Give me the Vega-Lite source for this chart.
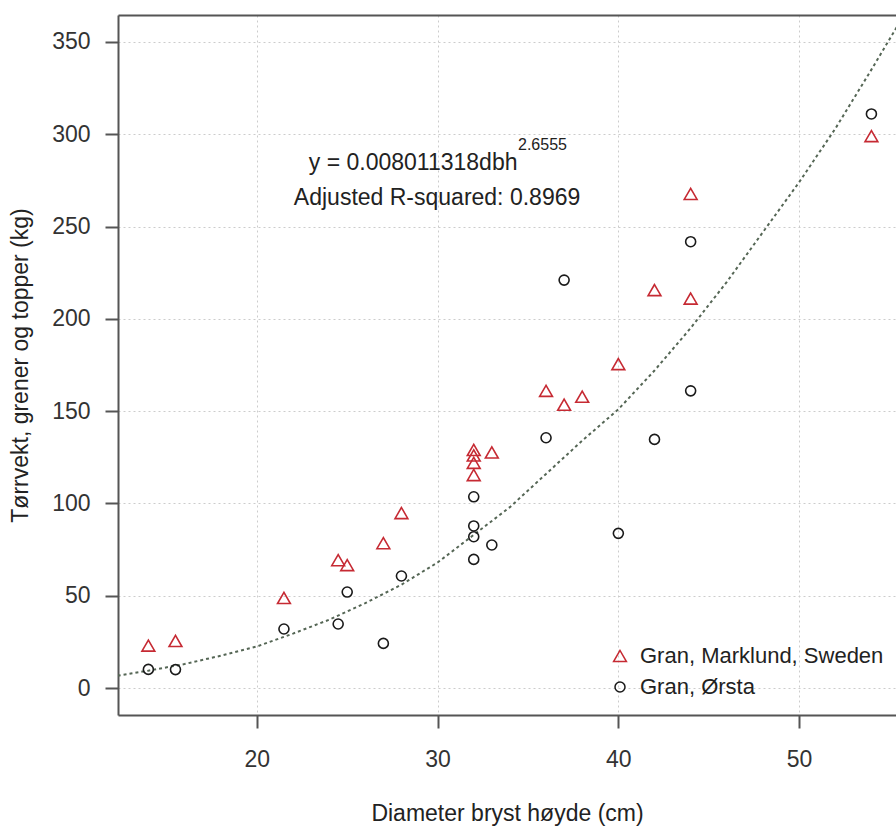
{
  "$schema": "https://vega.github.io/schema/vega-lite/v6.json",
  "width": 778,
  "height": 700,
  "autosize": {"type": "none"},
  "padding": {"left": 118, "top": 15, "right": 0, "bottom": 111},
  "background": "white",
  "config": {
    "view": {"stroke": null},
    "font": "Liberation Sans"
  },
  "datasets": {
    "obs": [
      {"dbh": 14, "kg": 23, "serie": "Gran, Marklund, Sweden"},
      {"dbh": 15.5, "kg": 25.5, "serie": "Gran, Marklund, Sweden"},
      {"dbh": 21.5, "kg": 48.8, "serie": "Gran, Marklund, Sweden"},
      {"dbh": 24.5, "kg": 69.3, "serie": "Gran, Marklund, Sweden"},
      {"dbh": 25, "kg": 66.6, "serie": "Gran, Marklund, Sweden"},
      {"dbh": 27, "kg": 78.5, "serie": "Gran, Marklund, Sweden"},
      {"dbh": 28, "kg": 94.8, "serie": "Gran, Marklund, Sweden"},
      {"dbh": 32, "kg": 129, "serie": "Gran, Marklund, Sweden"},
      {"dbh": 32, "kg": 126, "serie": "Gran, Marklund, Sweden"},
      {"dbh": 32, "kg": 122, "serie": "Gran, Marklund, Sweden"},
      {"dbh": 32, "kg": 115.4, "serie": "Gran, Marklund, Sweden"},
      {"dbh": 33, "kg": 127.6, "serie": "Gran, Marklund, Sweden"},
      {"dbh": 36, "kg": 161, "serie": "Gran, Marklund, Sweden"},
      {"dbh": 37, "kg": 153.5, "serie": "Gran, Marklund, Sweden"},
      {"dbh": 38, "kg": 157.8, "serie": "Gran, Marklund, Sweden"},
      {"dbh": 40, "kg": 175.5, "serie": "Gran, Marklund, Sweden"},
      {"dbh": 42, "kg": 215.6, "serie": "Gran, Marklund, Sweden"},
      {"dbh": 44, "kg": 267.7, "serie": "Gran, Marklund, Sweden"},
      {"dbh": 44, "kg": 211, "serie": "Gran, Marklund, Sweden"},
      {"dbh": 54, "kg": 299, "serie": "Gran, Marklund, Sweden"},
      {"dbh": 14, "kg": 10.1, "serie": "Gran, Ørsta"},
      {"dbh": 15.5, "kg": 10, "serie": "Gran, Ørsta"},
      {"dbh": 21.5, "kg": 32, "serie": "Gran, Ørsta"},
      {"dbh": 24.5, "kg": 34.7, "serie": "Gran, Ørsta"},
      {"dbh": 25, "kg": 52, "serie": "Gran, Ørsta"},
      {"dbh": 27, "kg": 24.2, "serie": "Gran, Ørsta"},
      {"dbh": 28, "kg": 60.7, "serie": "Gran, Ørsta"},
      {"dbh": 32, "kg": 103.6, "serie": "Gran, Ørsta"},
      {"dbh": 32, "kg": 87.8, "serie": "Gran, Ørsta"},
      {"dbh": 32, "kg": 82, "serie": "Gran, Ørsta"},
      {"dbh": 32, "kg": 69.7, "serie": "Gran, Ørsta"},
      {"dbh": 33, "kg": 77.5, "serie": "Gran, Ørsta"},
      {"dbh": 36, "kg": 135.6, "serie": "Gran, Ørsta"},
      {"dbh": 37, "kg": 221, "serie": "Gran, Ørsta"},
      {"dbh": 40, "kg": 83.8, "serie": "Gran, Ørsta"},
      {"dbh": 42, "kg": 134.7, "serie": "Gran, Ørsta"},
      {"dbh": 44, "kg": 161, "serie": "Gran, Ørsta"},
      {"dbh": 44, "kg": 241.8, "serie": "Gran, Ørsta"},
      {"dbh": 54, "kg": 311, "serie": "Gran, Ørsta"}
    ],
    "curve": [
      {"dbh": 12.3, "fit": 6.7},
      {"dbh": 14, "fit": 9.4},
      {"dbh": 16, "fit": 13},
      {"dbh": 18, "fit": 17.5},
      {"dbh": 20, "fit": 22.5},
      {"dbh": 22, "fit": 29.5},
      {"dbh": 24, "fit": 37},
      {"dbh": 26, "fit": 46},
      {"dbh": 28, "fit": 56},
      {"dbh": 30, "fit": 68},
      {"dbh": 32, "fit": 83},
      {"dbh": 34, "fit": 98},
      {"dbh": 36, "fit": 116},
      {"dbh": 38, "fit": 134},
      {"dbh": 40, "fit": 151},
      {"dbh": 42, "fit": 172},
      {"dbh": 44, "fit": 195},
      {"dbh": 46, "fit": 220},
      {"dbh": 48, "fit": 247},
      {"dbh": 50, "fit": 274},
      {"dbh": 52, "fit": 303},
      {"dbh": 54, "fit": 335},
      {"dbh": 55.4, "fit": 358}
    ]
  },
  "layer": [
    {
      "data": {"name": "curve"},
      "mark": {"type": "line", "color": "#556655", "strokeWidth": 2, "strokeDash": [3, 3], "clip": true},
      "encoding": {
        "x": {
          "field": "dbh", "type": "quantitative",
          "scale": {"domain": [12.32, 55.36], "nice": false, "zero": false},
          "axis": {"orient": "top", "labels": false, "ticks": false, "grid": false, "domain": true, "domainColor": "#555555", "domainWidth": 2, "title": null}
        },
        "y": {
          "field": "fit", "type": "quantitative",
          "scale": {"domain": [-14.6, 364.6], "nice": false, "zero": false},
          "axis": {
            "orient": "left",
            "values": [0, 50, 100, 150, 200, 250, 300, 350],
            "title": "Tørrvekt, grener og topper (kg)",
            "titleFontSize": 23, "titleFontWeight": "normal", "titleColor": "#222222", "titleFont": "Liberation Sans",
            "titleX": -98, "titleY": 350, "titleAngle": -90, "titleAlign": "center", "titleBaseline": "middle",
            "labelFontSize": 23, "labelColor": "#333333", "labelFont": "Liberation Sans", "labelPadding": 15,
            "tickSize": 13, "tickColor": "#555555", "tickWidth": 2,
            "domainColor": "#555555", "domainWidth": 2,
            "grid": true, "gridColor": "#cccccc", "gridDash": [2, 3], "gridWidth": 1
          }
        }
      }
    },
    {
      "data": {"name": "obs"},
      "mark": {"type": "point", "filled": false, "strokeWidth": 1.6, "opacity": 1, "clip": true},
      "encoding": {
        "x": {
          "field": "dbh", "type": "quantitative",
          "scale": {"domain": [12.32, 55.36], "nice": false, "zero": false},
          "axis": {
            "orient": "bottom",
            "values": [20, 30, 40, 50],
            "title": "Diameter bryst høyde (cm)",
            "titleFontSize": 23, "titleFontWeight": "normal", "titleColor": "#222222", "titleFont": "Liberation Sans",
            "titleX": 389, "titleY": 98, "titleAlign": "center", "titleBaseline": "middle",
            "labelFontSize": 23, "labelColor": "#333333", "labelFont": "Liberation Sans", "labelPadding": 20,
            "tickSize": 13, "tickColor": "#555555", "tickWidth": 2,
            "domainColor": "#555555", "domainWidth": 2,
            "grid": true, "gridColor": "#cccccc", "gridDash": [2, 3], "gridWidth": 1
          }
        },
        "y": {
          "field": "kg", "type": "quantitative",
          "scale": {"domain": [-14.6, 364.6], "nice": false, "zero": false},
          "axis": null
        },
        "shape": {
          "field": "serie", "type": "nominal",
          "scale": {"domain": ["Gran, Marklund, Sweden", "Gran, Ørsta"], "range": ["triangle-up", "circle"]},
          "legend": {
            "orient": "none", "legendX": 491, "legendY": 630, "title": null, "padding": 0,
            "labelFontSize": 22, "labelColor": "#222222", "labelFont": "Liberation Sans", "labelOffset": 9, "labelLimit": 500,
            "rowPadding": 9, "symbolStrokeWidth": 1.5, "symbolFillColor": "transparent"
          }
        },
        "color": {
          "field": "serie", "type": "nominal",
          "scale": {"domain": ["Gran, Marklund, Sweden", "Gran, Ørsta"], "range": ["#c62a33", "#1a1a1a"]},
          "legend": {
            "orient": "none", "legendX": 491, "legendY": 630, "title": null, "padding": 0,
            "labelFontSize": 22, "labelColor": "#222222", "labelFont": "Liberation Sans", "labelOffset": 9, "labelLimit": 500,
            "rowPadding": 9, "symbolStrokeWidth": 1.5, "symbolFillColor": "transparent"
          }
        },
        "size": {
          "field": "serie", "type": "nominal",
          "scale": {"domain": ["Gran, Marklund, Sweden", "Gran, Ørsta"], "range": [165, 100]},
          "legend": {
            "orient": "none", "legendX": 491, "legendY": 630, "title": null, "padding": 0,
            "labelFontSize": 22, "labelColor": "#222222", "labelFont": "Liberation Sans", "labelOffset": 9, "labelLimit": 500,
            "rowPadding": 9, "symbolStrokeWidth": 1.5, "symbolFillColor": "transparent"
          }
        }
      }
    },
    {
      "data": {"values": [{"label": "Adjusted R-squared: 0.8969"}]},
      "mark": {"type": "text", "font": "Liberation Sans", "fontSize": 23, "color": "#222222", "align": "center", "baseline": "middle"},
      "encoding": {
        "x": {"datum": 29.97, "type": "quantitative", "scale": {"domain": [12.32, 55.36], "nice": false, "zero": false}, "axis": null},
        "y": {"datum": 265.4, "type": "quantitative", "scale": {"domain": [-14.6, 364.6], "nice": false, "zero": false}, "axis": null},
        "text": {"field": "label", "type": "nominal"}
      }
    },
    {
      "data": {"values": [{"label": "y = 0.008011318dbh"}]},
      "mark": {"type": "text", "font": "Liberation Sans", "fontSize": 23, "color": "#222222", "align": "right", "baseline": "middle"},
      "encoding": {
        "x": {"datum": 34.42, "type": "quantitative", "scale": {"domain": [12.32, 55.36], "nice": false, "zero": false}, "axis": null},
        "y": {"datum": 284.4, "type": "quantitative", "scale": {"domain": [-14.6, 364.6], "nice": false, "zero": false}, "axis": null},
        "text": {"field": "label", "type": "nominal"}
      }
    },
    {
      "data": {"values": [{"label": "2.6555"}]},
      "mark": {"type": "text", "font": "Liberation Sans", "fontSize": 16, "color": "#222222", "align": "left", "baseline": "middle"},
      "encoding": {
        "x": {"datum": 34.45, "type": "quantitative", "scale": {"domain": [12.32, 55.36], "nice": false, "zero": false}, "axis": null},
        "y": {"datum": 294.2, "type": "quantitative", "scale": {"domain": [-14.6, 364.6], "nice": false, "zero": false}, "axis": null},
        "text": {"field": "label", "type": "nominal"}
      }
    }
  ],
  "resolve": {"axis": {"x": "independent", "y": "independent"}}
}
